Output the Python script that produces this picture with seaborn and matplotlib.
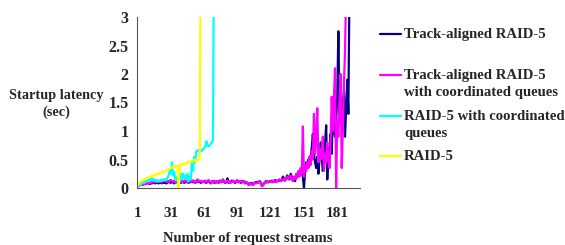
import numpy as np
import pandas as pd
import matplotlib.pyplot as plt
import seaborn as sns
from matplotlib.lines import Line2D

# valores (latência em segundos por número de streams)
track_aligned = [
    0.02, 0.04, 0.05, 0.06, 0.07, 0.06, 0.08, 0.07, 0.08, 0.09,
    0.08, 0.07, 0.09, 0.08, 0.10, 0.09, 0.08, 0.10, 0.09, 0.08,
    0.09, 0.10, 0.08, 0.11, 0.09, 0.10, 0.08, 0.09, 0.12, 0.10,
    0.09, 0.11, 0.10, 0.08, 0.10, 0.12, 0.09, 0.10, 0.11, 0.09,
    0.10, 0.12, 0.09, 0.11, 0.10, 0.13, 0.09, 0.10, 0.12, 0.11,
    0.10, 0.12, 0.09, 0.11, 0.13, 0.10, 0.12, 0.09, 0.11, 0.10,
    0.12, 0.10, 0.09, 0.11, 0.13, 0.10, 0.08, 0.11, 0.12, 0.09,
    0.10, 0.12, 0.11, 0.09, 0.13, 0.10, 0.12, 0.15, 0.11, 0.09,
    0.10, 0.17, 0.09, 0.11, 0.10, 0.13, 0.12, 0.10, 0.09, 0.11,
    0.13, 0.10, 0.12, 0.09, 0.11, 0.10, 0.12, 0.08, 0.10, 0.09,
    0.06, 0.08, 0.07, 0.09, 0.06, 0.08, 0.10, 0.09, 0.11, 0.10,
    0.12, 0.10, 0.04, 0.05, 0.08, 0.10, 0.12, 0.11, 0.10, 0.12,
    0.11, 0.13, 0.10, 0.12, 0.14, 0.11, 0.13, 0.12, 0.15, 0.13,
    0.14, 0.20, 0.16, 0.13, 0.18, 0.22, 0.17, 0.15, 0.25, 0.20,
    0.15, 0.18, 0.12, 0.22, 0.20, 0.28, 0.22, 0.25, 0.30, 0.20,
    0.00, 0.30, 0.45, 0.35, 0.50, 0.40, 0.55, 0.70, 0.95, 0.60,
    0.45, 0.35, 0.55, 0.25, 0.50, 0.80, 0.55, 0.30, 0.45, 0.75,
    1.10, 0.15, 0.70, 0.45, 0.95, 0.60, 1.35, 1.00, 0.90, 1.20,
    1.60, 2.75, 1.30, 1.60, 1.20, 1.45, 1.70, 0.90, 1.40, 1.90,
    1.30, 3.50,
]
track_aligned_coord = [
    0.03, 0.04, 0.05, 0.06, 0.05, 0.07, 0.06, 0.08, 0.07, 0.09,
    0.08, 0.10, 0.09, 0.11, 0.10, 0.12, 0.10, 0.11, 0.13, 0.10,
    0.12, 0.11, 0.10, 0.13, 0.12, 0.14, 0.11, 0.12, 0.10, 0.13,
    0.14, 0.12, 0.11, 0.13, 0.10, 0.12, 0.15, 0.11, 0.13, 0.12,
    0.10, 0.13, 0.11, 0.14, 0.12, 0.10, 0.13, 0.11, 0.12, 0.14,
    0.11, 0.13, 0.10, 0.12, 0.15, 0.11, 0.13, 0.12, 0.10, 0.12,
    0.11, 0.13, 0.10, 0.12, 0.14, 0.11, 0.09, 0.12, 0.10, 0.13,
    0.11, 0.09, 0.12, 0.10, 0.13, 0.11, 0.10, 0.14, 0.12, 0.10,
    0.11, 0.13, 0.10, 0.12, 0.09, 0.11, 0.13, 0.10, 0.12, 0.11,
    0.14, 0.10, 0.12, 0.11, 0.13, 0.10, 0.12, 0.09, 0.11, 0.08,
    0.05, 0.07, 0.06, 0.08, 0.05, 0.07, 0.09, 0.08, 0.10, 0.09,
    0.11, 0.09, 0.03, 0.04, 0.07, 0.11, 0.09, 0.12, 0.10, 0.11,
    0.12, 0.10, 0.13, 0.11, 0.12, 0.10, 0.13, 0.12, 0.14, 0.12,
    0.15, 0.13, 0.17, 0.14, 0.16, 0.20, 0.15, 0.18, 0.22, 0.16,
    0.12, 0.20, 0.15, 0.25, 0.18, 0.30, 0.20, 0.35, 0.25, 1.08,
    0.20, 0.40, 0.30, 0.45, 0.35, 0.55, 0.40, 0.65, 0.50, 1.30,
    0.60, 0.85, 1.40, 0.45, 0.70, 0.50, 0.60, 0.90, 0.30, 0.60,
    0.45, 0.80, 0.50, 0.35, 0.80, 1.60, 1.00, 1.60, 2.10, 0.00,
    1.20, 0.90, 1.50, 2.00, 0.35, 1.00, 1.80, 2.40, 3.50,
]
raid5_coord = [
    0.02, 0.05, 0.07, 0.06, 0.08, 0.10, 0.09, 0.12, 0.11, 0.13,
    0.15, 0.12, 0.14, 0.18, 0.13, 0.15, 0.12, 0.14, 0.11, 0.13,
    0.12, 0.14, 0.13, 0.15, 0.13, 0.16, 0.14, 0.18, 0.22, 0.30,
    0.25, 0.45, 0.22, 0.28, 0.15, 0.13, 0.20, 0.05, 0.12, 0.25,
    0.15, 0.25, 0.18, 0.22, 0.15, 0.25, 0.12, 0.20, 0.15, 0.45,
    0.30, 0.55, 0.45, 0.65, 0.66, 0.65, 0.68, 0.66, 0.65, 0.68,
    0.70, 0.72, 0.82, 0.74, 0.73, 0.75, 0.78, 0.80, 0.85, 5.00,
]
raid5 = [
    0.02, 0.08, 0.10, 0.12, 0.13, 0.15, 0.14, 0.16, 0.17, 0.18,
    0.18, 0.20, 0.21, 0.20, 0.22, 0.23, 0.22, 0.24, 0.25, 0.26,
    0.25, 0.27, 0.28, 0.27, 0.29, 0.30, 0.31, 0.32, 0.33, 0.34,
    0.36, 0.35, 0.37, 0.38, 0.37, 0.39, 0.38, 0.00, 0.40, 0.41,
    0.40, 0.42, 0.43, 0.42, 0.44, 0.45, 0.44, 0.46, 0.47, 0.46,
    0.48, 0.50, 0.47, 0.49, 0.48, 0.50, 0.52, 5.00,
]

series = {
    'Track-aligned RAID-5': track_aligned,
    'Track-aligned RAID-5\nwith coordinated queues': track_aligned_coord,
    'RAID-5 with coordinated\nqueues': raid5_coord,
    'RAID-5': raid5,
}
cores = ['#000080', '#FF00FF', '#00FFFF', '#FFFF00']
xticks = [1, 31, 61, 91, 121, 151, 181]

frames = []
for nome, vals in series.items():
    frames.append(pd.DataFrame({'streams': np.arange(1, len(vals) + 1),
                                'latency': vals, 'serie': nome}))
df = pd.concat(frames, ignore_index=True)

sns.set_style('white')
plt.rcParams['font.family'] = ['Liberation Serif', 'DejaVu Serif']
plt.rcParams['font.weight'] = 'bold'

fig = plt.figure(figsize=(5.65, 2.45), dpi=100)
ax = fig.add_axes([137 / 565, 1 - 188 / 245, 223 / 565, 171 / 245])

sns.lineplot(data=df, x='streams', y='latency', hue='serie',
             palette=dict(zip(series.keys(), cores)), estimator=None,
             sort=False, linewidth=1.6, legend=False, ax=ax)

ax.set_xlim(0.5, 201.5)
ax.set_ylim(0, 3)
ax.set_xticks(xticks)
ax.set_xticks(np.arange(1, 202, 3), minor=True)
ax.set_yticks([0, 0.5, 1, 1.5, 2, 2.5, 3])
ax.set_yticklabels(['0', '0.5', '1', '1.5', '2', '2.5', '3'])
ax.tick_params(axis='x', which='major', length=0, pad=14, labelsize=11)
ax.tick_params(axis='x', which='minor', length=4, width=1.8, color='black', direction='out')
ax.tick_params(axis='y', length=3, width=1, color='#555555', pad=3, labelsize=11.5)
for lab in ax.get_xticklabels() + ax.get_yticklabels():
    lab.set_fontweight('bold')
for s in ['top', 'right']:
    ax.spines[s].set_visible(False)
ax.spines['left'].set_color('#555555')
ax.spines['bottom'].set_color('#555555')
ax.set_xlabel('')
ax.set_ylabel('')

fig.text(248 / 565, 1 - 238 / 245, 'Number of request streams', ha='center', va='center',
         fontsize=10.5, fontweight='bold')
fig.text(56 / 565, 1 - 104 / 245, 'Startup latency\n(sec)', ha='center', va='center',
         fontsize=10.3, fontweight='bold', linespacing=1.3)

# legenda manual (marcador alinhado com a primeira linha do texto)
ys = [34, 75, 116, 156]
for (nome, cor, y) in zip(series.keys(), cores, ys):
    fig.add_artist(Line2D([380 / 565, 401 / 565], [1 - y / 245, 1 - y / 245],
                          color=cor, linewidth=1.6))
    fig.text(404 / 565, 1 - (y - 6) / 245, nome, ha='left', va='top',
             fontsize=10.6, fontweight='bold', linespacing=1.38)

fig.savefig('out.png', dpi=100)
